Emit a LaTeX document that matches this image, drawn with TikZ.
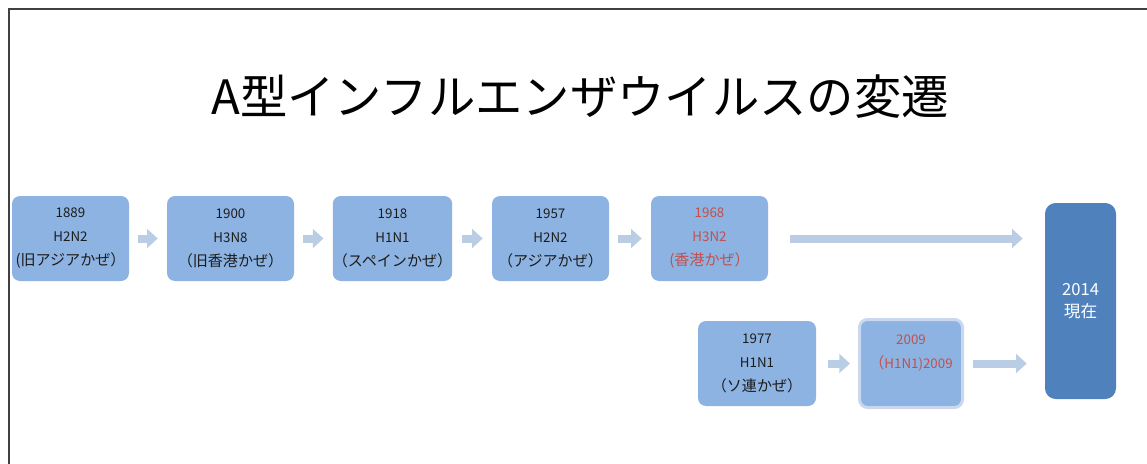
\documentclass[tikz,border=0pt]{standalone}
\usepackage{fontspec}
\setmainfont{Noto Sans CJK JP}
\usetikzlibrary{arrows.meta}
\newcommand\pxu{0.75pt}
\newcommand\cj[1]{{\fontsize{11.3}{18}\selectfont #1}}
\definecolor{boxfill}{HTML}{8DB3E2}
\definecolor{arrowc}{HTML}{B9CDE5}
\definecolor{darkbox}{HTML}{4F81BD}
\definecolor{redtxt}{HTML}{C0504D}
\definecolor{txt}{HTML}{1C1C1C}
\definecolor{glow}{HTML}{C9D8EC}
\tikzset{
  ybox/.style={fill=boxfill, rounded corners=6pt, inner sep=0pt, align=center,
    minimum width=117*\pxu, minimum height=85*\pxu, text=txt,
    font=\fontsize{10}{18}\selectfont},
  redt/.style={text=redtxt},
  barrow/.style={draw=arrowc, line width=8*\pxu, -{Triangle[length=8pt,width=14pt]}},
}
\begin{document}
\begin{tikzpicture}[x=\pxu, y=-\pxu]
\useasboundingbox (0,0) rectangle (1147,464);
\draw[line width=1.2pt, draw=black!75] (9,464) -- (9,9) -- (1147,9);
\node[font=\fontsize{35.5}{40}\selectfont, text=black] (title) at (580,97) {A型インフルエンザウイルスの変遷};
\node[ybox] (b1) at (70.5,238.5) {1889\\H2N2\\\cj{(旧アジアかぜ）}};
\node[ybox, minimum width=127*\pxu] (b2) at (230.5,238.5) {1900\\H3N8\\\cj{（旧香港かぜ）}};
\node[ybox] (b3) at (392.5,238.5) {1918\\H1N1\\\cj{（スペインかぜ）}};
\node[ybox] (b4) at (550.5,238.5) {1957\\H2N2\\\cj{（アジアかぜ）}};
\node[ybox, redt] (b5) at (709.5,238.5) {1968\\H3N2\\\cj{(香港かぜ）}};
\node[fill=darkbox, rounded corners=8pt, inner sep=0pt, minimum width=71*\pxu, minimum height=196*\pxu,
  text=white, align=center, font=\fontsize{12.5}{16.5}\selectfont] (b14) at (1080.5,301) {2014\\現在};
\node[ybox, minimum width=118*\pxu] (b77) at (757,363.5) {1977\\H1N1\\\cj{（ソ連かぜ）}};
\node[ybox, redt, draw=glow, line width=3*\pxu, minimum width=103*\pxu, minimum height=88*\pxu] (b09) at (911,363.5) {2009\\\cj{（}H1N1)2009\\\mbox{}};
\draw[barrow, shorten <=9*\pxu, shorten >=9*\pxu] (b1.east) -- (b2.west);
\draw[barrow, shorten <=9*\pxu, shorten >=9*\pxu] (b2.east) -- (b3.west);
\draw[barrow, shorten <=9*\pxu, shorten >=9*\pxu] (b3.east) -- (b4.west);
\draw[barrow, shorten <=9*\pxu, shorten >=9*\pxu] (b4.east) -- (b5.west);
\draw[barrow, shorten <=22*\pxu, shorten >=22*\pxu] (b5.east) -- (b5.east -| b14.west);
\draw[barrow, shorten <=12*\pxu, shorten >=8*\pxu] (b77.east) -- (b09.west);
\draw[barrow, shorten <=9*\pxu, shorten >=18*\pxu] (b09.east) -- (b09.east -| b14.west);
\end{tikzpicture}
\end{document}
